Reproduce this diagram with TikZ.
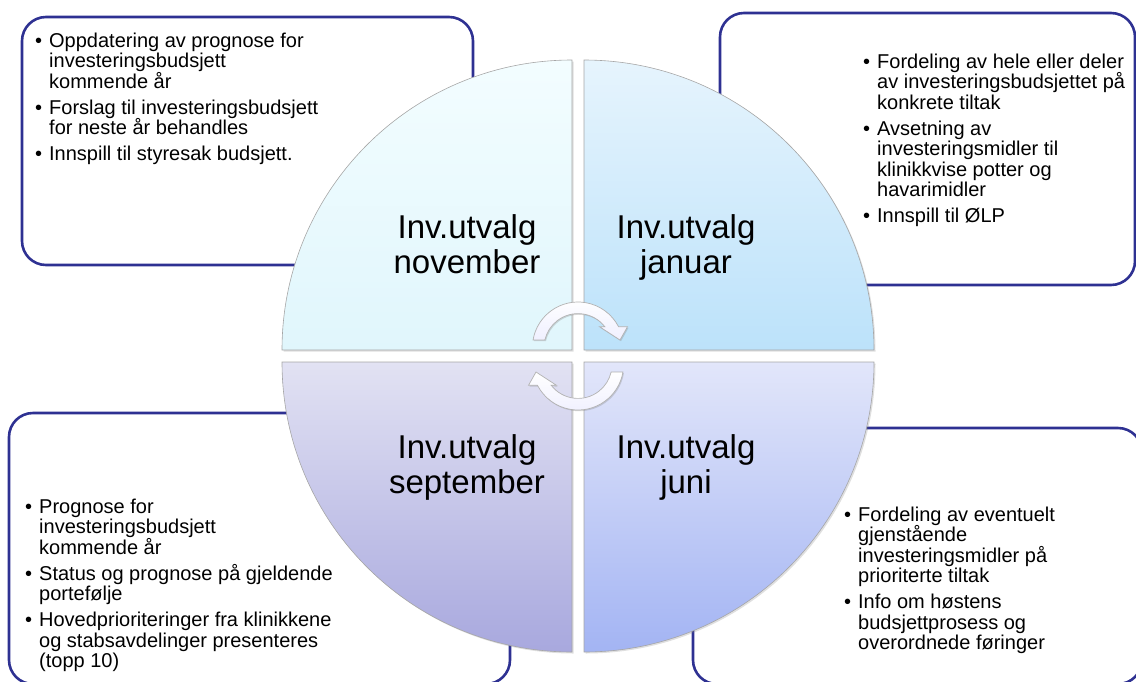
\documentclass[tikz,border=0pt]{standalone}
\usepackage{fontspec}
\setmainfont{Liberation Sans}
\usetikzlibrary{shadows}
\definecolor{boxblue}{RGB}{46,49,146}
\definecolor{tlTop}{RGB}{243,253,255}
\definecolor{tlBot}{RGB}{224,246,252}
\definecolor{trTop}{RGB}{230,244,253}
\definecolor{trBot}{RGB}{188,226,250}
\definecolor{blTop}{RGB}{226,226,243}
\definecolor{blBot}{RGB}{168,168,222}
\definecolor{brTop}{RGB}{226,230,250}
\definecolor{brBot}{RGB}{163,180,243}
\newcommand{\bitem}{\par\hangindent=14pt\hangafter=1\noindent\makebox[14pt][l]{\strut\textbullet}}
\newenvironment{blist}{\begin{minipage}[t]{320pt}\raggedright\setlength{\parskip}{5.5pt}\setlength{\parindent}{0pt}\lineskiplimit=-30pt}{\par\end{minipage}}
\begin{document}
\begin{tikzpicture}[x=1pt,y=1pt,
  infobox/.style={draw=boxblue, line width=2.6pt, rounded corners=24pt},
  quad/.style={draw=gray!70, line width=0.6pt,
    drop shadow={opacity=0.25, shadow xshift=1.5pt, shadow yshift=-1.5pt}},
  title/.style={font=\fontsize{33}{34}\selectfont, align=center, inner sep=0pt, anchor=north},
  bullets/.style={font=\fontsize{20}{20.5}\selectfont, inner sep=0pt, anchor=north west},
  cyclearrow/.style={draw=gray!60, line width=0.7pt, top color=white, bottom color=blue!6,
    drop shadow={opacity=0.3, shadow xshift=1pt, shadow yshift=-1.2pt}}
]
\useasboundingbox (0,0) rectangle (1136,-681);
\begin{scope}
\clip (0,0) rectangle (1136,-681);
% info boxes
\draw[infobox] (22,-17) rectangle (473,-265);
\draw[infobox] (720,-13) rectangle (1135,-285);
\draw[infobox] (9,-413) rectangle (510,-684);
\draw[infobox] (693,-428) rectangle (1142,-684);
% quadrants
\shadedraw[quad, top color=tlTop, bottom color=tlBot] (572,-350) -- (282,-350) arc[start angle=180, end angle=90, radius=290] -- cycle;
\shadedraw[quad, top color=trTop, bottom color=trBot] (584,-350) -- (584,-60) arc[start angle=90, end angle=0, radius=290] -- cycle;
\shadedraw[quad, top color=blTop, bottom color=blBot] (572,-362) -- (282,-362) arc[start angle=180, end angle=270, radius=290] -- cycle;
\shadedraw[quad, top color=brTop, bottom color=brBot] (584,-362) -- (874,-362) arc[start angle=0, end angle=-90, radius=290] -- cycle;
% cycle arrows
\begin{scope}[shift={(578,-347.6)}]
\shadedraw[cyclearrow] (170.4:45.6) arc[start angle=170.4, end angle=27.3, radius=45.6] -- (49.5,20.9) -- (42,7.6) -- (21.5,20.9) -- (37.9:34) arc[start angle=37.9, end angle=167.1, radius=34] -- cycle;
\end{scope}
\begin{scope}[shift={(578,-364.4)}, rotate=180]
\shadedraw[cyclearrow] (170.4:45.6) arc[start angle=170.4, end angle=27.3, radius=45.6] -- (49.5,20.9) -- (42,7.6) -- (21.5,20.9) -- (37.9:34) arc[start angle=37.9, end angle=167.1, radius=34] -- cycle;
\end{scope}
\end{scope}
% titles
\node[title] (nov) at (467,-214.7) {\strut Inv.utvalg\\november};
\node[title] (jan) at (686,-214.7) {\strut Inv.utvalg\\januar};
\node[title] (sep) at (467,-434.2) {\strut Inv.utvalg\\september};
\node[title] (jun) at (686,-434.2) {\strut Inv.utvalg\\juni};
% bullet texts
\node[bullets] (tltext) at (35,-32.6) {\begin{blist}
\bitem Oppdatering av prognose for\newline investeringsbudsjett\newline kommende år
\bitem Forslag til investeringsbudsjett\newline for neste år behandles
\bitem Innspill til styresak budsjett.
\end{blist}};
\node[bullets] (trtext) at (863,-53.6) {\begin{blist}
\bitem Fordeling av hele eller deler\newline av investeringsbudsjettet på\newline konkrete tiltak
\bitem Avsetning av\newline investeringsmidler til\newline klinikkvise potter og\newline havarimidler
\bitem Innspill til ØLP
\end{blist}};
\node[bullets] (bltext) at (25,-498.6) {\begin{blist}
\bitem Prognose for\newline investeringsbudsjett\newline kommende år
\bitem Status og prognose på gjeldende\newline portefølje
\bitem Hovedprioriteringer fra klinikkene\newline og stabsavdelinger presenteres\newline (topp 10)
\end{blist}};
\node[bullets] (brtext) at (844,-506.6) {\begin{blist}
\bitem Fordeling av eventuelt\newline gjenstående\newline investeringsmidler på\newline prioriterte tiltak
\bitem Info om høstens\newline budsjettprosess og\newline overordnede føringer
\end{blist}};
\end{tikzpicture}
\end{document}
